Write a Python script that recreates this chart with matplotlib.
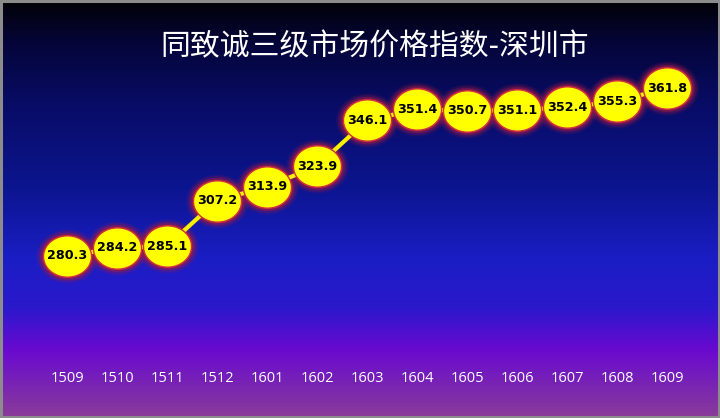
import numpy as np
import matplotlib
matplotlib.use("Agg")
import matplotlib.pyplot as plt
from matplotlib.path import Path
from matplotlib.colors import LinearSegmentedColormap
from matplotlib.transforms import blended_transform_factory

# index values per month
months = ["1509", "1510", "1511", "1512", "1601", "1602", "1603",
          "1604", "1605", "1606", "1607", "1608", "1609"]
values = [280.3, 284.2, 285.1, 307.2, 313.9, 323.9, 346.1,
          351.4, 350.7, 351.1, 352.4, 355.3, 361.8]
title = "同致诚三级市场价格指数-深圳市"

plt.rcParams['font.family'] = ['Noto Sans CJK SC', 'DejaVu Sans']

fig = plt.figure(figsize=(7.2, 4.18), dpi=100)

# background gradient
bg = fig.add_axes([0, 0, 1, 1])
stops = [(0.0, "#020206"), (0.10, "#05053a"), (0.25, "#080c66"),
         (0.45, "#0c1590"), (0.62, "#1a1ec4"), (0.74, "#2c18cc"),
         (0.84, "#6a0ad0"), (0.91, "#7620b8"), (1.0, "#8a3c98")]
cmap = LinearSegmentedColormap.from_list("bg", stops)
grad = np.linspace(0, 1, 400).reshape(-1, 1)
bg.imshow(grad, aspect="auto", cmap=cmap, extent=[0, 1, 0, 1], origin="upper")
bg.set_xlim(0, 1)
bg.set_ylim(0, 1)
bg.axis("off")
bg.add_patch(plt.Rectangle((0.001, 0.002), 0.997, 0.995, fill=False,
                           edgecolor="#8c8c8c", linewidth=2.2,
                           transform=bg.transAxes))

ax = fig.add_axes([0, 0, 1, 1])
ax.patch.set_alpha(0)
ax.axis("off")
x = np.arange(len(months))
ax.set_xlim(-1.34, 13.06)
ax.set_ylim(201.7, 404.5)

# ellipse marker
t = np.linspace(0, 2 * np.pi, 80)
ell = Path(np.column_stack([np.cos(t), 0.86 * np.sin(t)]), closed=True)

# soft reddish glow round each marker
for s, a in [(2050, 0.14), (1800, 0.25), (1560, 0.45), (1380, 0.6)]:
    ax.scatter(x, values, s=s, marker=ell, color="#9a1a48", alpha=a,
               linewidths=0, zorder=2)
ax.plot(x, values, color="#f8f000", linewidth=3, zorder=3)
ax.scatter(x, values, s=1200, marker=ell, color="#ffff00",
           edgecolors="#d03040", linewidths=1.0, zorder=4)

for xi, v in zip(x, values):
    ax.text(xi, v, f"{v:.1f}", ha="center", va="center", fontsize=9.2,
            fontweight="bold", color="black", family="DejaVu Sans", zorder=5)

tr = blended_transform_factory(ax.transData, ax.transAxes)
for xi, m in zip(x, months):
    ax.text(xi, 0.095, m, ha="center", va="center", fontsize=10.5,
            color="white", family="Open Sans", transform=tr)

fig.text(0.52, 0.888, title, ha="center", va="center", fontsize=21.5,
         color="white")

fig.savefig("out.png", dpi=100)
